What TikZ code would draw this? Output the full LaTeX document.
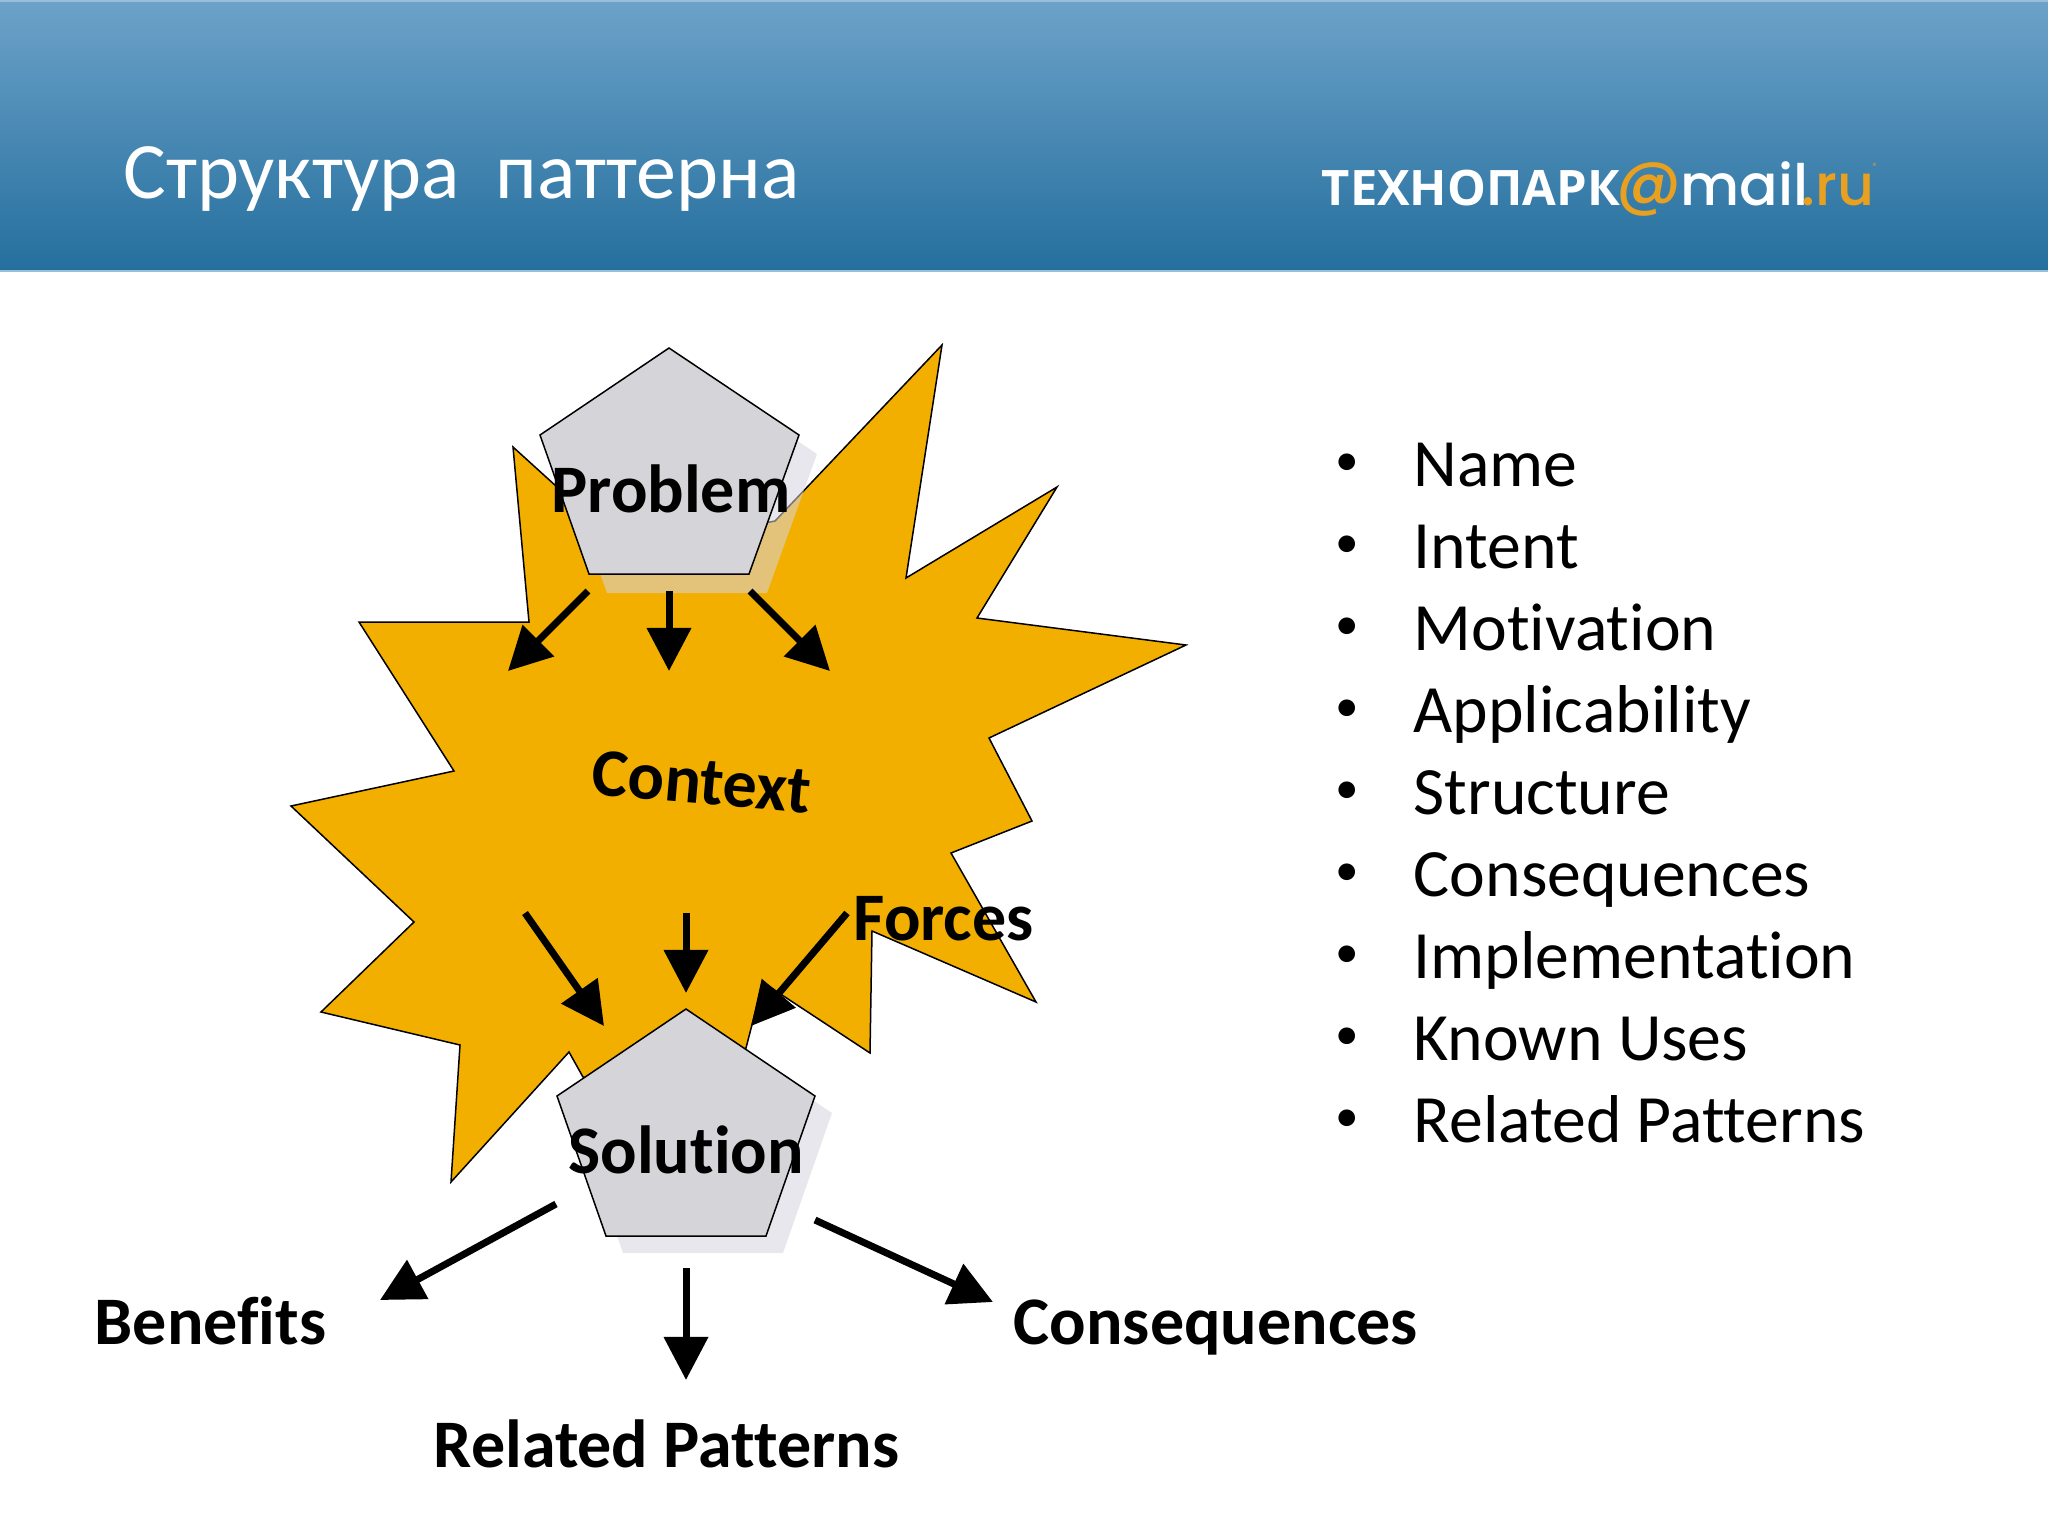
\documentclass[tikz,border=0pt]{standalone}
\usepackage{fontspec}
\setmainfont{Carlito}[Ligatures=NoCommon]
\newfontfamily\logofont{Open Sans}
\newfontfamily\mailfont{Poppins Medium}
\usetikzlibrary{arrows.meta}
\definecolor{starcolor}{HTML}{F2AF00}
\definecolor{pentcolor}{HTML}{D5D4D9}
\definecolor{shadowcolor}{HTML}{D5D4DE}
\definecolor{headtop}{HTML}{6CA2C9}
\definecolor{headbottom}{HTML}{256F9E}
\definecolor{logoorange}{HTML}{E8A020}

\begin{document}
\begin{tikzpicture}[x=0.01cm,y=-0.01cm,>={Triangle[length=0.43cm,width=0.43cm]},
  link/.style={->,line width=0.07cm},
  star/.style={fill=starcolor,draw=black,line width=0.015cm,line join=miter},
  pent/.style={fill=pentcolor,draw=black,line width=0.015cm},
  pentshadow/.style={fill=shadowcolor,fill opacity=0.55},
  label node/.style={inner sep=0pt,anchor=base,font=\fontsize{19.35}{24}\selectfont\bfseries},
  left node/.style={label node,anchor=base west},
  list node/.style={inner sep=0pt,anchor=base west,font=\fontsize{19.25}{22}\selectfont},
  bullet node/.style={inner sep=0pt,anchor=base west,font=\fontsize{13.4}{16}\selectfont}]

  \useasboundingbox (0,0) rectangle (2048,1536);

  %Header band with title and logo
  \shade[top color=headtop,bottom color=headbottom] (0,0) rectangle (2048,270);
  \fill[headtop!70!white] (0,0) rectangle (2048,2);
  \fill[headtop!70!white] (0,270) rectangle (2048,272);
  \node[inner sep=0pt,anchor=base west,text=white,font=\fontsize{22.75}{26}\selectfont] (title) at (123,198) {Структура\ \ паттерна};
  \node[inner sep=0pt,anchor=base west,text=white,font=\logofont\bfseries\fontsize{13.9}{16}\selectfont] (logoleft) at (1321,205) {ТЕХНОПАРК};
  \node[inner sep=0pt,anchor=base west,text=logoorange,font=\mailfont\fontsize{18}{20}\selectfont] (logoat) at (1616,203) {@};
  \node[inner sep=0pt,anchor=base west,text=white,font=\mailfont\fontsize{16.2}{20}\selectfont] (logomail) at (1680,205) {mail};
  \node[inner sep=0pt,anchor=base west,text=logoorange,font=\mailfont\fontsize{16.2}{20}\selectfont] (logoru) at (1801,205) {.ru};
  \node[inner sep=0pt,anchor=base west,text=logoorange,font=\fontsize{3}{4}\selectfont] (logomark) at (1872,170) {®};

  %The star shape
  \draw[star] (942,345) -- (906,578) -- (1057,487) -- (977,618) -- (1186,645) -- (989,738)
    -- (1032,821) -- (951,853) -- (1036,1002) -- (872,931) -- (870,1053) -- (782,995)
    -- (763,982) -- (746,1048) -- (680,1110) -- (583,1077) -- (569,1052) -- (451,1182)
    -- (460,1045) -- (321,1012) -- (414,922) -- (291,806) -- (454,771) -- (359,622)
    -- (529,622) -- (513,447) -- (600,526) -- (680,540) -- (775,521) -- cycle;

  %Problem pentagon
  \fill[pentshadow] (687,367) -- (817,454) -- (767,593) -- (607,593) -- (558,454) -- cycle;
  \draw[pent] (669,348) -- (799,435) -- (749,574) -- (589,574) -- (540,435) -- cycle;

  %Solution pentagon
  \fill[pentshadow] (703,1026) -- (832,1113) -- (783,1253) -- (623,1253) -- (574,1113) -- cycle;
  \draw[pent] (686,1009) -- (815,1096) -- (766,1236) -- (606,1236) -- (557,1096) -- cycle;

  %Labels
  \node[label node] (problem) at (671,512) {Problem};
  \node[label node,rotate=-5] (context) at (700,804) {Context};
  \node[left node] (forces) at (853,940) {Forces};
  \node[label node] (solution) at (686,1173) {Solution};
  \node[left node] (benefits) at (94,1344) {Benefits};
  \node[left node] (related) at (433,1467) {Related Patterns};
  \node[left node] (conseq) at (1013,1344) {Consequences};

  %Ends of the arrows
  \coordinate (pa) at (588,591);   \coordinate (pat) at (508,671);
  \coordinate (pb) at (669,591);   \coordinate (pbt) at (669,671);
  \coordinate (pc) at (750,591);   \coordinate (pct) at (830,671);
  \coordinate (ca) at (525,913);   \coordinate (cat) at (604,1026);
  \coordinate (cb) at (686,913);   \coordinate (cbt) at (686,993);
  \coordinate (cc) at (847,913);   \coordinate (cct) at (751,1026);
  \coordinate (sa) at (556,1204);  \coordinate (sat) at (380,1300);
  \coordinate (sb) at (686,1268);  \coordinate (sbt) at (686,1380);
  \coordinate (sc) at (815,1220);  \coordinate (sct) at (993,1302);

  \path[link]
    %From Problem into the star
    (pa) edge (pat)
    (pb) edge (pbt)
    (pc) edge (pct)
    %From the star to Solution
    (ca) edge (cat)
    (cb) edge (cbt)
    (cc) edge (cct)
    %From Solution to its results
    (sa) edge (sat)
    (sb) edge (sbt)
    (sc) edge (sct);

  %Bullet list
  \foreach \entry [count=\i from 0] in {Name,Intent,Motivation,Applicability,Structure,Consequences,Implementation,Known Uses,Related Patterns} {
    \node[bullet node] (bullet\i) at (1335,475+\i*82) {•};
    \node[list node] (entry\i) at (1413,486+\i*82) {\entry};
  }

\end{tikzpicture}
\end{document}
